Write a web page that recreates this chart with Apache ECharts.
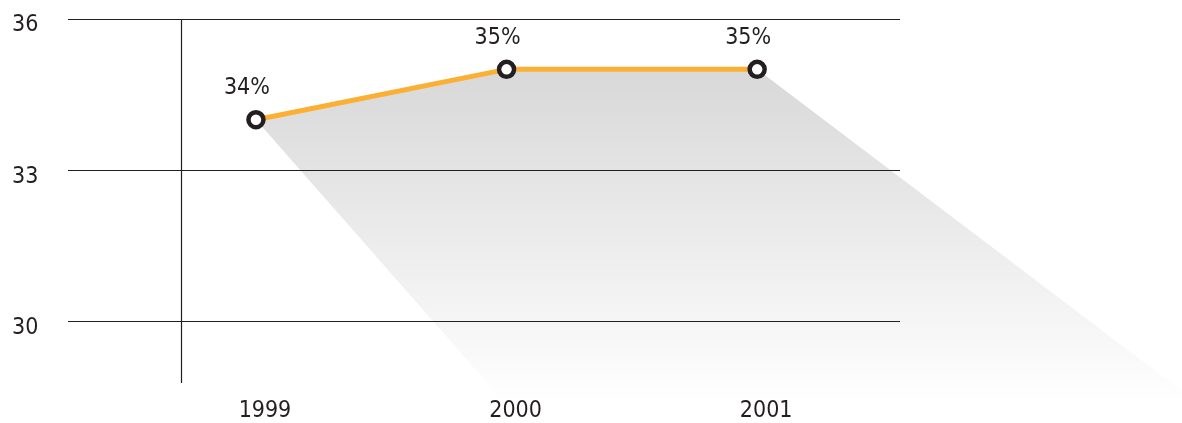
<!DOCTYPE html>
<html>
<head>
<meta charset="utf-8">
<script src="https://cdn.jsdelivr.net/npm/echarts@6/dist/echarts.min.js"></script>
<style>
  html, body { margin: 0; padding: 0; background: #fff; }
  #chart { width: 1182px; height: 423px; }
</style>
</head>
<body>
<div id="chart"></div>
<script>
// data
const years = [1999, 2000, 2001];
const shares = [34, 35, 35];
const yTicks = [30, 33, 36];
const xRange = [1998.25, 2001.57];
const yRange = [28.77, 36];
const dividerAt = 1998.7;

const FONT = "'Liberation Sans Narrow', 'DejaVu Sans Condensed', sans-serif";
const INK = '#231f20';
// light source for the shadow, relative to the grid's top-left corner
const LIGHT = [-941, -1184];

const points = years.map((y, i) => [y, shares[i]]);

const chart = echarts.init(document.getElementById('chart'));

chart.setOption({
  animation: false,
  grid: { left: 68, right: 282, top: 19, bottom: 40 },
  xAxis: {
    type: 'value',
    min: xRange[0],
    max: xRange[1],
    axisLine: { show: false },
    axisTick: { show: false },
    splitLine: { show: false },
    axisLabel: {
      customValues: years,
      formatter: v => String(v),
      fontFamily: FONT,
      fontSize: 23,
      color: INK,
      margin: 17,
      padding: [0, 0, 0, 18]
    }
  },
  yAxis: {
    type: 'value',
    min: yRange[0],
    max: yRange[1],
    axisLine: { show: false },
    axisTick: { show: false, customValues: yTicks },
    splitLine: { show: true, lineStyle: { color: INK, width: 1.2 } },
    axisLabel: {
      customValues: yTicks,
      fontFamily: FONT,
      fontSize: 23,
      color: INK,
      align: 'left',
      verticalAlign: 'top',
      lineHeight: 13,
      margin: 56
    }
  },
  series: [
    {
      type: 'custom',
      z: -1,
      clip: false,
      silent: true,
      data: points,
      renderItem(params, api) {
        if (params.dataIndex !== 0) return null;
        const cs = params.coordSys;
        const lx = cs.x + LIGHT[0];
        const ly = cs.y + LIGHT[1];
        const floorY = cs.y + cs.height + 50;
        const top = points.map(p => api.coord(p));
        const bottom = top.map(p => {
          const k = (floorY - p[1]) / (p[1] - ly);
          return [p[0] + (p[0] - lx) * k, floorY];
        }).reverse();
        const yTop = Math.min.apply(null, top.map(p => p[1]));
        return {
          type: 'polygon',
          shape: { points: top.concat(bottom) },
          style: {
            fill: new echarts.graphic.LinearGradient(0, yTop, 0, cs.y + cs.height + 22, [
              { offset: 0, color: '#d8d8d8' },
              { offset: 1, color: '#ffffff' }
            ], true)
          }
        };
      }
    },
    {
      type: 'line',
      data: points,
      z: 3,
      symbol: 'circle',
      symbolSize: 15,
      lineStyle: { color: '#fbb034', width: 5 },
      itemStyle: { color: '#ffffff', borderColor: INK, borderWidth: 4.5 },
      label: {
        show: true,
        position: 'top',
        distance: 10,
        offset: [-9, 0],
        formatter: p => p.value[1] + '%',
        fontFamily: FONT,
        fontSize: 23,
        color: INK
      },
      markLine: {
        silent: true,
        symbol: ['none', 'none'],
        label: { show: false },
        lineStyle: { color: INK, width: 1.2, type: 'solid' },
        data: [{ xAxis: dividerAt }]
      }
    }
  ]
});
</script>
</body>
</html>
